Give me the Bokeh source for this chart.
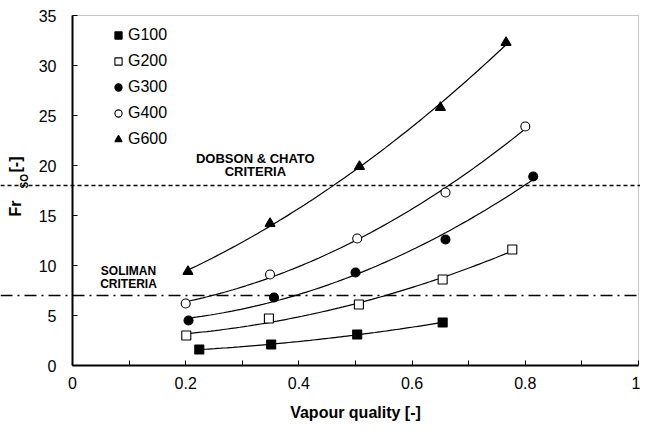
import numpy as np
from bokeh.plotting import figure
from bokeh.models import (Range1d, FixedTicker, Span, Label, Legend, LegendItem, BoxAnnotation)
from bokeh.embed import file_html
from bokeh.resources import INLINE

# ---- data ----
x_g100 = [0.224, 0.351, 0.503, 0.654]
y_g100 = [1.6, 2.1, 3.1, 4.3]
x_g200 = [0.201, 0.347, 0.506, 0.654, 0.777]
y_g200 = [3.0, 4.7, 6.1, 8.6, 11.6]
x_g300 = [0.205, 0.356, 0.500, 0.659, 0.814]
y_g300 = [4.5, 6.8, 9.3, 12.6, 18.9]
x_g400 = [0.200, 0.349, 0.503, 0.659, 0.800]
y_g400 = [6.2, 9.1, 12.7, 17.3, 23.9]
x_g600 = [0.204, 0.349, 0.507, 0.650, 0.766]
y_g600 = [9.4, 14.2, 19.9, 25.8, 32.3]

dobson_level = 18
soliman_level = 7

X_MIN, X_MAX = 0, 1
Y_MIN, Y_MAX = 0, 35
x_ticks = [0, 0.2, 0.4, 0.6, 0.8, 1]
x_tick_labels = ["0", "0.2", "0.4", "0.6", "0.8", "1"]
y_ticks = [0, 5, 10, 15, 20, 25, 30, 35]

FONT = "Liberation Sans"

# the frame covers the whole canvas; the axes are drawn at fixed locations
p = figure(width=640, height=422, output_backend="svg", toolbar_location=None,
           x_range=Range1d(-0.12721, 1.00353), y_range=Range1d(-5.7, 36.5),
           min_border_left=0, min_border_right=0, min_border_top=0, min_border_bottom=0)
p.background_fill_color = "white"
p.border_fill_color = "white"
p.outline_line_color = None
p.xgrid.visible = False
p.ygrid.visible = False

# thin plot-area border (top and right visible)
p.add_layout(BoxAnnotation(left=X_MIN, right=X_MAX, bottom=Y_MIN, top=Y_MAX,
                           fill_alpha=0, line_color="#444444", line_width=1,
                           level="underlay"))

xa = p.xaxis[0]
xa.fixed_location = Y_MIN
xa.bounds = (X_MIN, X_MAX)
xa.ticker = FixedTicker(ticks=x_ticks, minor_ticks=[0.1, 0.3, 0.5, 0.7, 0.9])
xa.major_label_overrides = {t: l for t, l in zip(x_ticks, x_tick_labels)}
ya = p.yaxis[0]
ya.fixed_location = X_MIN
ya.bounds = (Y_MIN, Y_MAX)
ya.ticker = FixedTicker(ticks=y_ticks)
for ax in (xa, ya):
    ax.axis_line_width = 2
    ax.axis_line_color = "black"
    ax.major_tick_in = 5
    ax.major_tick_out = 0
    ax.minor_tick_in = 5
    ax.minor_tick_out = 0
    ax.major_tick_line_color = "black"
    ax.minor_tick_line_color = "black"
    ax.major_label_text_font = FONT
    ax.major_label_text_font_size = "16px"
    ax.major_label_text_color = "black"
ya.minor_tick_line_color = None
xa.major_label_standoff = 11
ya.major_label_standoff = 16

# criteria lines
p.add_layout(Span(location=dobson_level, dimension="width", line_color="black",
                  line_width=1.3, line_dash="4 3"))
p.add_layout(Span(location=soliman_level, dimension="width", line_color="black",
                  line_width=1.3, line_dash="12 5 2 5"))

series = [
    ("G100", x_g100, y_g100, "square", "black", 9),
    ("G200", x_g200, y_g200, "square", "white", 9),
    ("G300", x_g300, y_g300, "circle", "black", 9),
    ("G400", x_g400, y_g400, "circle", "white", 9),
    ("G600", x_g600, y_g600, "triangle", "black", 10),
]
# trend lines (quadratic fits of each series over its range)
for name, xs, ys, marker, fill, size in series:
    coef = np.polyfit(xs, ys, 2)
    xf = np.linspace(min(xs), max(xs), 80)
    p.line(xf, np.polyval(coef, xf), line_color="black", line_width=1.2)
items = []
for name, xs, ys, marker, fill, size in series:
    r = p.scatter(xs, ys, marker=marker, size=size, fill_color=fill,
                  line_color="black", line_width=1.1)
    items.append(LegendItem(label=name, renderers=[r]))

legend = Legend(items=items, location=(109, 273))
legend.background_fill_alpha = 0
legend.border_line_alpha = 0
legend.padding = 0
legend.margin = 0
legend.spacing = 6
legend.glyph_width = 18
legend.glyph_height = 20
legend.label_height = 20
legend.label_standoff = 1
legend.label_text_font = FONT
legend.label_text_font_size = "16px"
legend.label_text_color = "black"
legend.label_text_baseline = "middle"
p.add_layout(legend, "center")

# criteria texts
lab_kw = dict(text_font=FONT, text_font_style="bold",
              text_color="black", text_align="center", text_baseline="middle")
p.add_layout(Label(x=0.323, y=20.7, text="DOBSON & CHATO", text_font_size="13px", **lab_kw))
p.add_layout(Label(x=0.323, y=19.4, text="CRITERIA", text_font_size="13px", **lab_kw))
p.add_layout(Label(x=0.099, y=9.5, text="SOLIMAN", text_font_size="12px", **lab_kw))
p.add_layout(Label(x=0.099, y=8.2, text="CRITERIA", text_font_size="12px", **lab_kw))

# x axis title
p.add_layout(Label(x=0.5, y=-4.7, text="Vapour quality [-]", text_font_size="16px", **lab_kw))

# y axis title with subscript
yl_kw = dict(text_font=FONT, text_font_style="bold", text_color="black",
             text_align="left", text_baseline="middle", angle=np.pi / 2)
p.add_layout(Label(x=-0.1, y=14.9, text="Fr", text_font_size="16px", **yl_kw))
p.add_layout(Label(x=-0.1, y=17.7, x_offset=9, text="SO", text_font_size="10px", **yl_kw))
p.add_layout(Label(x=-0.1, y=19.3, text="[-]", text_font_size="16px", **yl_kw))

open("out.html", "w").write(file_html(p, INLINE))
